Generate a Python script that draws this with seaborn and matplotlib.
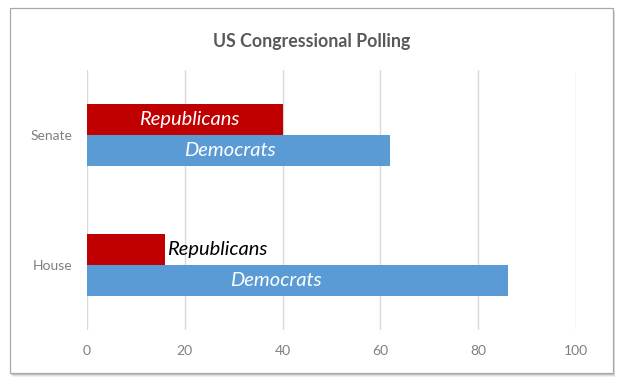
import matplotlib.pyplot as plt
import matplotlib.patches as mpatches
import seaborn as sns
import pandas as pd

chambers = ['Senate', 'House']
parties = ['Republicans', 'Democrats']
republicans = [40, 16]
democrats = [62, 86]
x_ticks = [0, 20, 40, 60, 80, 100]

party_colors = {'Republicans': '#C00000', 'Democrats': '#5B9BD5'}

df = pd.DataFrame({
    'Chamber': chambers * 2,
    'Party': ['Republicans'] * 2 + ['Democrats'] * 2,
    'Value': republicans + democrats,
})

sns.set_style('white')
plt.rcParams['font.family'] = ['Lato', 'DejaVu Sans']

fig = plt.figure(figsize=(6.23, 3.89), dpi=100)
fig.patch.set_facecolor('white')

# frame with a soft drop shadow, like the pasted Excel chart
W, H = 623, 389
for k, a in [(4, 0.10), (3, 0.15), (2, 0.22), (1, 0.30)]:
    fig.patches.append(mpatches.Rectangle(((10 + k * 0.5) / W, 1 - (373 + k) / H), 603 / W, 365 / H,
                                          transform=fig.transFigure, facecolor='#707070', alpha=a,
                                          edgecolor='none', zorder=0))
fig.patches.append(mpatches.Rectangle((10 / W, 1 - 373 / H), 603 / W, 365 / H, transform=fig.transFigure,
                                      facecolor='white', edgecolor='#A8A8A8', linewidth=0.9, zorder=1))

ax = fig.add_axes([87 / W, 1 - 330 / H, 489 / W, 260 / H])
ax.set_facecolor('none')
ax.set_zorder(2)

sns.barplot(data=df, y='Chamber', x='Value', hue='Party', order=chambers, hue_order=parties,
            palette=party_colors, orient='h', width=0.47, dodge=True, saturation=1,
            linewidth=0, legend=False, ax=ax)

ax.set_xlim(0, 100)
ax.set_ylim(1.5, -0.5)
ax.set_xticks(x_ticks)
ax.xaxis.grid(True, color='#D9D9D9', linewidth=1)
ax.set_axisbelow(True)
for s in ax.spines.values():
    s.set_visible(False)
ax.tick_params(axis='both', length=0, colors='#7F7F7F', labelsize=10)
ax.tick_params(axis='x', pad=11)
ax.tick_params(axis='y', pad=10.5)
ax.set_xlabel('')
ax.set_ylabel('')

# labels: (party, chamber index, position as fraction of bar, inside?)
label_specs = [('Republicans', 0, 0.52, True), ('Democrats', 0, 0.47, True),
               ('Republicans', 1, 1.0, False), ('Democrats', 1, 0.45, True)]
bars = {}
for patch, key in zip(ax.patches, [(p, i) for p in parties for i in range(len(chambers))]):
    bars[key] = patch
for party, i, frac, inside in label_specs:
    p = bars[(party, i)]
    yc = p.get_y() + p.get_height() / 2
    if inside:
        ax.text(p.get_width() * frac, yc, party, ha='center', va='center', color='white',
                fontsize=14.5, style='italic')
    else:
        ax.text(p.get_width() + 0.3, yc, party, ha='left', va='center', color='black',
                fontsize=14.5, style='italic')

fig.text(0.5, 1 - 41 / H, 'US Congressional Polling', ha='center', va='center',
         fontsize=12.8, fontweight='bold', color='#595959')

fig.savefig('out.png', dpi=100)
